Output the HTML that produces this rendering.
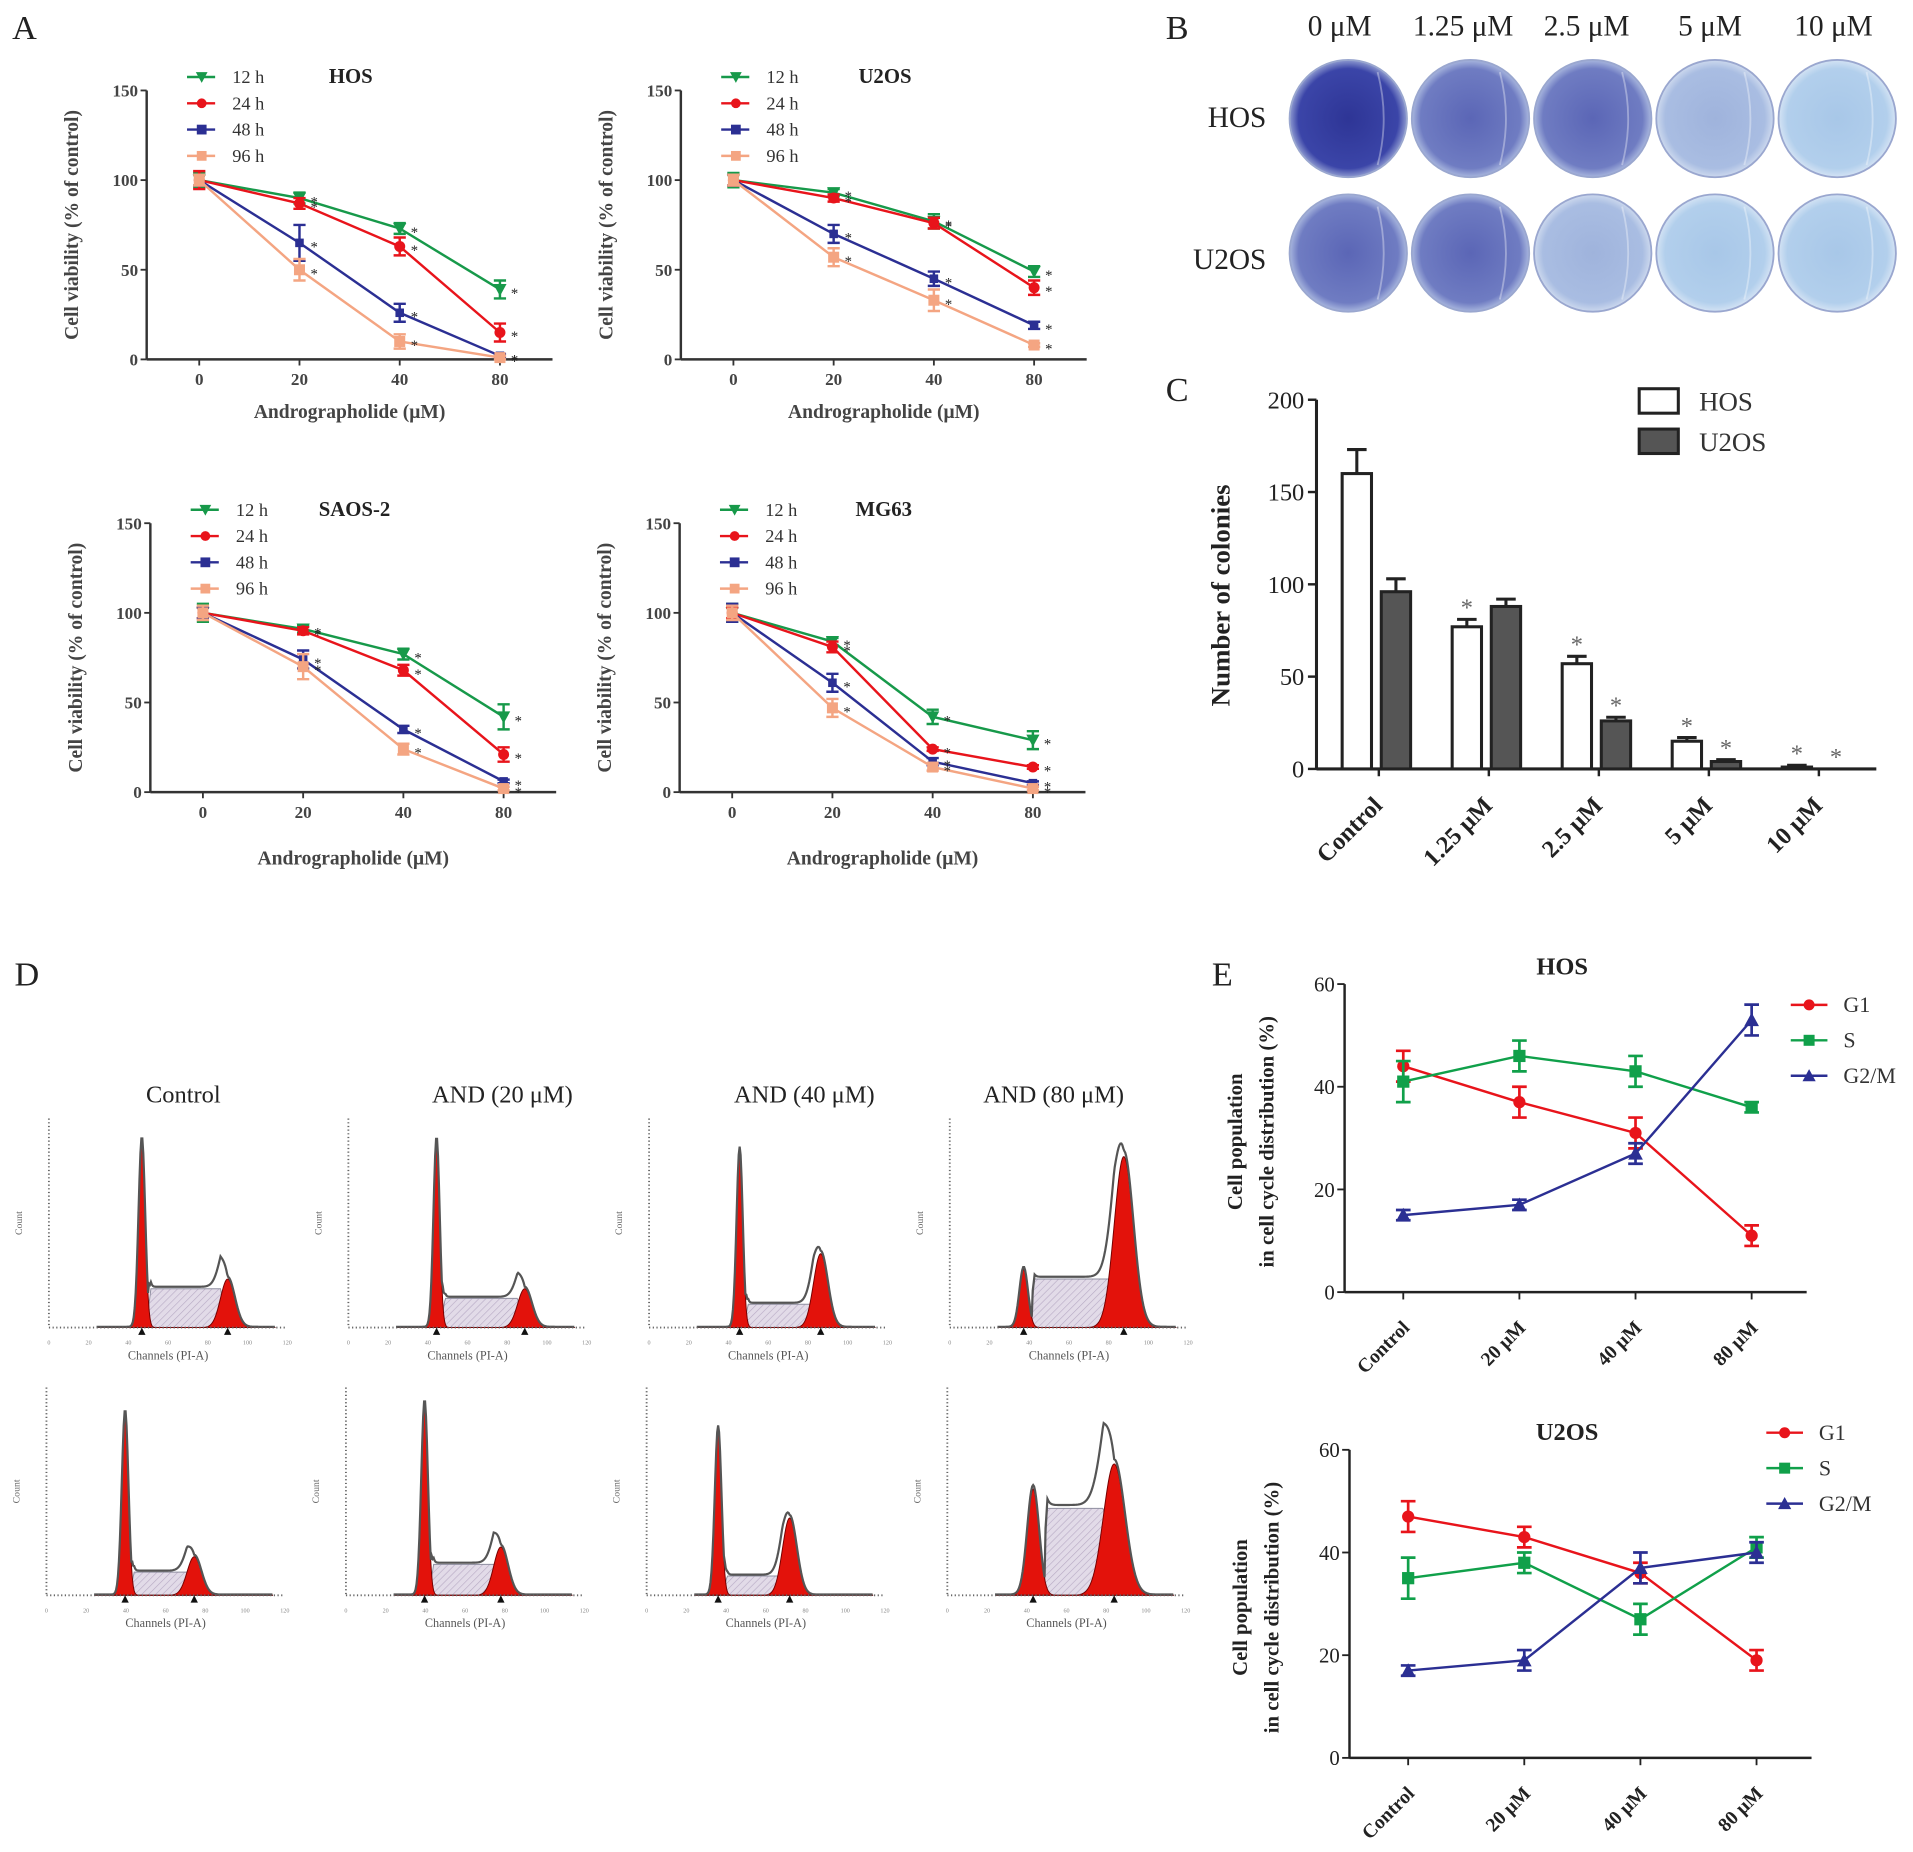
<!DOCTYPE html>
<html><head><meta charset="utf-8"><style>
html,body{margin:0;padding:0;background:#fff}
svg{display:block;font-family:"Liberation Serif",serif}
</style></head><body>
<svg id="fig" width="1913" height="1852" viewBox="0 0 1565 1515" preserveAspectRatio="none" xmlns="http://www.w3.org/2000/svg">
<defs>
<pattern id="hatch" width="4" height="4" patternUnits="userSpaceOnUse" patternTransform="rotate(45)"><rect width="4" height="4" fill="#e2dbe8"/><line x1="0" y1="0" x2="0" y2="4" stroke="#b7aac4" stroke-width="1"/></pattern>
<radialGradient id="d0" cx="50%" cy="50%" r="50%"><stop offset="0" stop-color="#2e3596"/><stop offset="0.85" stop-color="#3b45a8"/><stop offset="1" stop-color="#8e9ad0"/></radialGradient>
<radialGradient id="d1" cx="50%" cy="50%" r="50%"><stop offset="0" stop-color="#5b66b6"/><stop offset="0.85" stop-color="#6f7cc2"/><stop offset="1" stop-color="#a8b6de"/></radialGradient>
<radialGradient id="d2" cx="50%" cy="50%" r="50%"><stop offset="0" stop-color="#7a88c8"/><stop offset="0.85" stop-color="#8795cc"/><stop offset="1" stop-color="#b5c3e4"/></radialGradient>
<radialGradient id="d3" cx="50%" cy="50%" r="50%"><stop offset="0" stop-color="#9fb3dc"/><stop offset="0.85" stop-color="#a9bde2"/><stop offset="1" stop-color="#cdd9ee"/></radialGradient>
<radialGradient id="d4" cx="50%" cy="50%" r="50%"><stop offset="0" stop-color="#a8c7e8"/><stop offset="0.85" stop-color="#b2cfec"/><stop offset="1" stop-color="#d4e3f4"/></radialGradient>
</defs>
<g id="root"></g>
</svg>
<script>
// ---------- Panel A data ----------
const aDoses = ['0','20','40','80'];
const aLegend = ['12 h','24 h','48 h','96 h'];
const hos12 = [100,90,73,39], hos24 = [100,87,63,15], hos48 = [100,65,26,2], hos96 = [100,50,10,1];
const hosErr12 = [4,3,3,5], hosErr24 = [5,3,5,5], hosErr48 = [3,10,5,1], hosErr96 = [3,6,4,1];
const u2os12 = [100,93,77,49], u2os24 = [100,90,76,40], u2os48 = [100,70,45,19], u2os96 = [100,57,33,8];
const u2Err12 = [4,2,4,3], u2Err24 = [3,2,3,4], u2Err48 = [3,5,4,2], u2Err96 = [3,5,6,1];
const saos12 = [100,91,77,42], saos24 = [100,90,68,21], saos48 = [100,74,35,6], saos96 = [100,70,24,2];
const saErr12 = [5,2,3,7], saErr24 = [3,2,3,4], saErr48 = [3,5,2,1], saErr96 = [4,7,3,1];
const mg12 = [100,84,42,29], mg24 = [100,81,24,14], mg48 = [100,61,17,5], mg96 = [100,47,14,2];
const mgErr12 = [5,2,4,5], mgErr24 = [3,3,1,1], mgErr48 = [5,5,2,1], mgErr96 = [4,5,2,1];
const aYTicks = [0,50,100,150];
// ---------- Panel C data ----------
const cCats = ['Control','1.25 μM','2.5 μM','5 μM','10 μM'];
const cHos = [160,77,57,15,1], cHosErr = [13,4,4,2,1];
const cU2 = [96,88,26,4,0], cU2Err = [7,4,2,1,0];
const cHosStar = [0,1,1,1,1], cU2Star = [0,0,1,1,1];
const cYTicks = [0,50,100,150,200];
// ---------- Panel E data ----------
const eCats = ['Control','20 μM','40 μM','80 μM'];
const eHosG1 = [44,37,31,11], eHosG1Err = [3,3,3,2];
const eHosS = [41,46,43,36], eHosSErr = [4,3,3,1];
const eHosG2 = [15,17,27,53], eHosG2Err = [1,1,2,3];
const eU2G1 = [47,43,36,19], eU2G1Err = [3,2,2,2];
const eU2S = [35,38,27,41], eU2SErr = [4,2,3,2];
const eU2G2 = [17,19,37,40], eU2G2Err = [1,2,3,2];
const eYTicks = [0,20,40,60];
// ---------- Panel D histogram model params: [g1pos, g1h, g1w, g2pos, g2h, g2w, sH] ----------
const dRow1 = [[0.39,0.95,0.014,0.75,0.25,0.03,0.2],[0.37,0.95,0.013,0.74,0.2,0.03,0.15],[0.38,0.9,0.013,0.72,0.38,0.03,0.12],[0.31,0.3,0.018,0.73,0.88,0.04,0.25]];
const dRow2 = [[0.33,0.93,0.014,0.62,0.2,0.03,0.12],[0.33,0.98,0.014,0.65,0.25,0.03,0.16],[0.30,0.85,0.014,0.60,0.4,0.03,0.1],[0.36,0.55,0.025,0.70,0.68,0.045,0.45]];

const NS='http://www.w3.org/2000/svg';
const root=document.getElementById('root');
function el(tag,attrs,name,parent){
  const e=document.createElementNS(NS,tag);
  for(const k in attrs) e.setAttribute(k,attrs[k]);
  
  
  (parent||root).appendChild(e);return e;}
function txt(x,y,s,size,name,opt){
  opt=opt||{};
  const t=el('text',{x:x,y:y,'font-size':size,'text-anchor':opt.anchor||'middle','font-weight':opt.bold?'bold':'normal',fill:opt.fill||'#222'},name,opt.parent);
  if(opt.rot!==undefined) t.setAttribute('transform','rotate('+opt.rot+' '+x+' '+y+')');
  t.textContent=s;return t;}

const C={g:'#17994a',r:'#e8141b',b:'#2b2f93',o:'#f4a582'};
function marker(g,shape,x,y,col,sz,name){
  if(shape==='circle') el('circle',{cx:x,cy:y,r:sz,fill:col},name,g);
  else if(shape==='square') el('rect',{x:x-sz,y:y-sz,width:2*sz,height:2*sz,fill:col},name,g);
  else if(shape==='tri') el('path',{d:`M${x-sz*1.2},${y+sz} L${x+sz*1.2},${y+sz} L${x},${y-sz*1.2}Z`,fill:col},name,g);
  else el('path',{d:`M${x-sz*1.2},${y-sz} L${x+sz*1.2},${y-sz} L${x},${y+sz*1.2}Z`,fill:col},name,g);
}

txt(20,32,'A',28,'panel-label-a');txt(963,32,'B',28,'panel-label-b');
txt(963,328,'C',28,'panel-label-c');txt(22,806,'D',28,'panel-label-d');txt(1000,806,'E',28,'panel-label-e');

// ---------- Panel A ----------
function viability(cfg){
  const g=el('g',{},cfg.name);
  const y=v=>cfg.yb-(v/150)*(cfg.yb-cfg.yt);
  const x=i=>cfg.x0+43+i*82;
  el('line',{x1:cfg.x0,y1:cfg.yt,x2:cfg.x0,y2:cfg.yb,stroke:'#333','stroke-width':2},'y-axis',g);
  el('line',{x1:cfg.x0,y1:cfg.yb,x2:cfg.x0+332,y2:cfg.yb,stroke:'#333','stroke-width':2},'x-axis',g);
  aYTicks.forEach(v=>{el('line',{x1:cfg.x0-5,y1:y(v),x2:cfg.x0,y2:y(v),stroke:'#333','stroke-width':1.5},'y-tick',g);
    txt(cfg.x0-7,y(v)+5,String(v),14,'y-tick-label',{anchor:'end',bold:1,fill:'#444',parent:g});});
  aDoses.forEach((d,i)=>{el('line',{x1:x(i),y1:cfg.yb,x2:x(i),y2:cfg.yb+5,stroke:'#333','stroke-width':1.5},'x-tick',g);
    txt(x(i),cfg.yb+21,d,14,'x-tick-label',{bold:1,fill:'#444',parent:g});});
  txt(cfg.x0+166,cfg.xt,'Andrographolide (μM)',16,'x-axis-title',{bold:1,fill:'#444',parent:g});
  txt(cfg.x0-56,(cfg.yt+cfg.yb)/2,'Cell viability (% of control)',16,'y-axis-title',{bold:1,rot:-90,fill:'#444',parent:g});
  txt(cfg.x0+167,cfg.yt-6,cfg.title,17,'chart-title',{bold:1,parent:g});
  const cols=[C.g,C.r,C.b,C.o],shapes=['inv','circle','square','square'];
  cfg.series.forEach((s,k)=>{
    const pts=s.map((v,i)=>x(i)+','+y(v)).join(' ');
    el('polyline',{points:pts,fill:'none',stroke:cols[k],'stroke-width':2},'series-line-'+aLegend[k].replace(' ',''),g);
    s.forEach((v,i)=>{
      const e=cfg.errs[k][i];
      el('path',{d:`M${x(i)},${y(v+e)}V${y(v-e)}M${x(i)-5},${y(v+e)}h10M${x(i)-5},${y(v-e)}h10`,stroke:cols[k],'stroke-width':2,fill:'none'},'error-bar',g);
      marker(g,shapes[k],x(i),y(v),cols[k],k===2?3.5:4.5,'data-point');
      if(i>0) txt(x(i)+12,y(v)+7,'*',12,'significance-star',{parent:g});
    });
    const ly=cfg.ly+k*21.5;
    el('line',{x1:cfg.x0+33,y1:ly,x2:cfg.x0+56,y2:ly,stroke:cols[k],'stroke-width':2},'legend-line',g);
    marker(g,shapes[k],cfg.x0+45,ly,cols[k],4,'legend-marker');
    txt(cfg.x0+70,ly+5,aLegend[k],15,'legend-label',{anchor:'start',fill:'#333',parent:g});
  });
}
viability({name:'chart-hos-viability',x0:120,yt:74,yb:294,xt:342,ly:63,title:'HOS',series:[hos12,hos24,hos48,hos96],errs:[hosErr12,hosErr24,hosErr48,hosErr96]});
viability({name:'chart-u2os-viability',x0:557,yt:74,yb:294,xt:342,ly:63,title:'U2OS',series:[u2os12,u2os24,u2os48,u2os96],errs:[u2Err12,u2Err24,u2Err48,u2Err96]});
viability({name:'chart-saos2-viability',x0:123,yt:428,yb:648,xt:707,ly:417,title:'SAOS-2',series:[saos12,saos24,saos48,saos96],errs:[saErr12,saErr24,saErr48,saErr96]});
viability({name:'chart-mg63-viability',x0:556,yt:428,yb:648,xt:707,ly:417,title:'MG63',series:[mg12,mg24,mg48,mg96],errs:[mgErr12,mgErr24,mgErr48,mgErr96]});

// ---------- Panel B ----------
const bConc=['0 μM','1.25 μM','2.5 μM','5 μM','10 μM'];
const gB=el('g',{},'colony-dish-images');
bConc.forEach((c,i)=>txt(1096+i*101,29,c,24,'concentration-label',{parent:gB}));
txt(1012,104,'HOS',24,'row-label-hos',{parent:gB});txt(1006,220,'U2OS',24,'row-label-u2os',{parent:gB});
const hosDish=['d0','d1','d1','d3','d4'],u2Dish=['d1','d1','d3','d4','d4'];
[hosDish,u2Dish].forEach((row,r)=>row.forEach((f,i)=>{
  const cx=1103+i*100,cy=r?207:97;
  el('circle',{cx:cx,cy:cy,r:48,fill:'url(#'+f+')',stroke:'#9aa7cf','stroke-width':1.5},'culture-dish',gB);
  el('path',{d:`M${cx+24},${cy-38} Q${cx+34},${cy} ${cx+24},${cy+38}`,stroke:'rgba(255,255,255,0.35)','stroke-width':1.5,fill:'none'},'dish-reflection',gB);
}));

// ---------- Panel C ----------
(function(){
  const g=el('g',{},'chart-colony-count');
  const x0=1077,yt=327,yb=629;
  const y=v=>yb-(v/200)*(yb-yt);
  el('line',{x1:x0,y1:yt,x2:x0,y2:yb,stroke:'#222','stroke-width':2.5},'y-axis',g);
  el('line',{x1:x0,y1:yb,x2:1535,y2:yb,stroke:'#222','stroke-width':2.5},'x-axis',g);
  cYTicks.forEach(v=>{el('line',{x1:x0-7,y1:y(v),x2:x0,y2:y(v),stroke:'#222','stroke-width':2},'y-tick',g);
    txt(x0-10,y(v)+7,String(v),20,'y-tick-label',{anchor:'end',parent:g});});
  txt(1006,487,'Number of colonies',22,'y-axis-title',{bold:1,rot:-90,parent:g});
  cCats.forEach((c,i)=>{
    const gx=1098+i*90;
    [[cHos,cHosErr,'#fff','bar-hos',cHosStar],[cU2,cU2Err,'#555','bar-u2os',cU2Star]].forEach((s,k)=>{
      const bx=gx+k*32,v=s[0][i],e=s[1][i];
      if(e>0) el('path',{d:`M${bx+12},${y(v)}V${y(v+e)}M${bx+4},${y(v+e)}h16`,stroke:'#222','stroke-width':2.5,fill:'none'},'error-bar',g);
      el('rect',{x:bx,y:y(v),width:24,height:yb-y(v),fill:s[2],stroke:'#222','stroke-width':2.5},s[3],g);
      if(s[4][i]) txt(bx+12,y(v+e)-3,'*',20,'significance-star',{fill:'#666',parent:g});
    });
    const lx=gx+30,ly=650;
    el('line',{x1:lx,y1:yb,x2:lx,y2:yb+6,stroke:'#222','stroke-width':2},'x-tick',g);
    txt(lx+4,ly+10,c,20,'x-tick-label',{anchor:'end',bold:1,rot:-45,parent:g});
  });
  el('rect',{x:1341,y:318,width:32,height:20,fill:'#fff',stroke:'#222','stroke-width':2.5},'legend-swatch-hos',g);
  txt(1390,336,'HOS',22,'legend-label-hos',{anchor:'start',fill:'#333',parent:g});
  el('rect',{x:1341,y:351,width:32,height:20,fill:'#555',stroke:'#222','stroke-width':2.5},'legend-swatch-u2os',g);
  txt(1390,369,'U2OS',22,'legend-label-u2os',{anchor:'start',fill:'#333',parent:g});
})();

// ---------- Panel D ----------
const dTitles=['Control','AND (20 μM)','AND (40 μM)','AND (80 μM)'];
const dTitleX=[150,411,658,862];
dTitles.forEach((t,i)=>txt(dTitleX[i],902,t,20,'histogram-column-title'));
function hist(p,bx,top,bot,name){
  const g=el('g',{},name);const W=195,H=bot-top-12;
  const gauss=(t,m,h,w)=>h*Math.exp(-((t-m)*(t-m))/(2*w*w));
  const sfun=t=>{const a=p[0]+2*p[2],b=p[3]-p[5];if(t<a||t>b+p[5])return 0;return p[6]*Math.min(1,(t-a+0.01)/0.02)*Math.min(1,(b+p[5]-t)/p[5]);};
  const X=t=>bx+t*W,Y=v=>bot-v*H;
  const mk=f=>{let d=`M${X(0.2)},${bot}`;for(let t=0.2;t<=0.95;t+=0.004)d+=`L${X(t)},${Y(f(t))}`;return d+`L${X(0.95)},${bot}Z`;};
  el('path',{d:mk(sfun),fill:'url(#hatch)',stroke:'#8f8fa0','stroke-width':0.8},'s-phase-area',g);
  el('path',{d:mk(t=>gauss(t,p[0],p[1],p[2])),fill:'#e3120b',stroke:'#700','stroke-width':0.8},'g1-peak',g);
  el('path',{d:mk(t=>gauss(t,p[3],p[4],p[5])),fill:'#e3120b',stroke:'#700','stroke-width':0.8},'g2-peak',g);
  let d='';for(let t=0.2;t<=0.95;t+=0.004){const v=gauss(t,p[0],p[1],p[2])+gauss(t,p[3],p[4],p[5])+sfun(t);d+=(d?'L':'M')+X(t)+','+Y(v*1.03+0.004);}
  el('path',{d:d,fill:'none',stroke:'#555','stroke-width':1.8},'fit-envelope',g);
  el('line',{x1:bx,y1:top,x2:bx,y2:bot,stroke:'#666','stroke-width':1.5,'stroke-dasharray':'1 2'},'y-axis',g);
  el('line',{x1:bx,y1:bot,x2:bx+W,y2:bot,stroke:'#666','stroke-width':1.5,'stroke-dasharray':'1 2'},'x-axis',g);
  [p[0],p[3]].forEach(m=>el('path',{d:`M${X(m)-3},${bot+6}h6l-3,-6z`,fill:'#111'},'peak-marker',g));
  for(let k=0;k<=6;k++) txt(bx+k*W/6,bot+14,String(k*20),5,'x-tick-label',{fill:'#888',parent:g});
  txt(bx-22,(top+bot)/2,'Count',8,'y-axis-title',{rot:-90,fill:'#666',parent:g});
  txt(bx+W*0.5,bot+26,'Channels  (PI-A)',10,'x-axis-title',{fill:'#555',parent:g});
}
const dCols=[40,285,531,777];
dRow1.forEach((p,i)=>hist(p,dCols[i],915,1086,'histogram-hos-'+i));
dRow2.forEach((p,i)=>hist(p,dCols[i]-2,1135,1305,'histogram-u2os-'+i));

// ---------- Panel E ----------
function cycle(cfg){
  const g=el('g',{},cfg.name);
  const y=v=>cfg.yb-(v/60)*(cfg.yb-cfg.yt);
  const x=i=>cfg.x0+48+i*95;
  el('line',{x1:cfg.x0,y1:cfg.yt,x2:cfg.x0,y2:cfg.yb,stroke:'#222','stroke-width':2},'y-axis',g);
  el('line',{x1:cfg.x0,y1:cfg.yb,x2:cfg.x0+378,y2:cfg.yb,stroke:'#222','stroke-width':2},'x-axis',g);
  eYTicks.forEach(v=>{el('line',{x1:cfg.x0-6,y1:y(v),x2:cfg.x0,y2:y(v),stroke:'#222','stroke-width':1.5},'y-tick',g);
    txt(cfg.x0-8,y(v)+6,String(v),17,'y-tick-label',{anchor:'end',parent:g});});
  eCats.forEach((c,i)=>{el('line',{x1:x(i),y1:cfg.yb,x2:x(i),y2:cfg.yb+6,stroke:'#222','stroke-width':1.5},'x-tick',g);
    txt(x(i)+6,cfg.yb+30,c,16,'x-tick-label',{anchor:'end',bold:1,rot:-45,parent:g});});
  txt(cfg.x0+178,cfg.yt-8,cfg.title,20,'chart-title',{bold:1,parent:g});
  txt(cfg.x0-84,(cfg.yt+cfg.yb)/2+3,'Cell population',17,'y-axis-title-line1',{bold:1,rot:-90,parent:g});
  txt(cfg.x0-58,(cfg.yt+cfg.yb)/2+3,'in cell cycle distribution (%)',17,'y-axis-title-line2',{bold:1,rot:-90,parent:g});
  const cols=[C.r,'#10a04a','#2b2f93'],shapes=['circle','square','tri'],names=['G1','S','G2/M'];
  cfg.series.forEach((s,k)=>{
    el('polyline',{points:s.map((v,i)=>x(i)+','+y(v)).join(' '),fill:'none',stroke:cols[k],'stroke-width':2},'series-line-'+names[k],g);
    s.forEach((v,i)=>{const e=cfg.errs[k][i];
      el('path',{d:`M${x(i)},${y(v+e)}V${y(v-e)}M${x(i)-6},${y(v+e)}h12M${x(i)-6},${y(v-e)}h12`,stroke:cols[k],'stroke-width':2.2,fill:'none'},'error-bar',g);
      marker(g,shapes[k],x(i),y(v),cols[k],5,'data-point');});
    const ly=cfg.ly+k*29;
    el('line',{x1:cfg.lx,y1:ly,x2:cfg.lx+30,y2:ly,stroke:cols[k],'stroke-width':2},'legend-line',g);
    marker(g,shapes[k],cfg.lx+15,ly,cols[k],4.5,'legend-marker');
    txt(cfg.lx+43,ly+6,names[k],18,'legend-label',{anchor:'start',fill:'#333',parent:g});
  });
}
cycle({name:'chart-hos-cell-cycle',x0:1100,yt:805,yb:1057,lx:1465,ly:822,title:'HOS',series:[eHosG1,eHosS,eHosG2],errs:[eHosG1Err,eHosSErr,eHosG2Err]});
cycle({name:'chart-u2os-cell-cycle',x0:1104,yt:1186,yb:1438,lx:1445,ly:1172,title:'U2OS',series:[eU2G1,eU2S,eU2G2],errs:[eU2G1Err,eU2SErr,eU2G2Err]});
</script>
</body></html>
